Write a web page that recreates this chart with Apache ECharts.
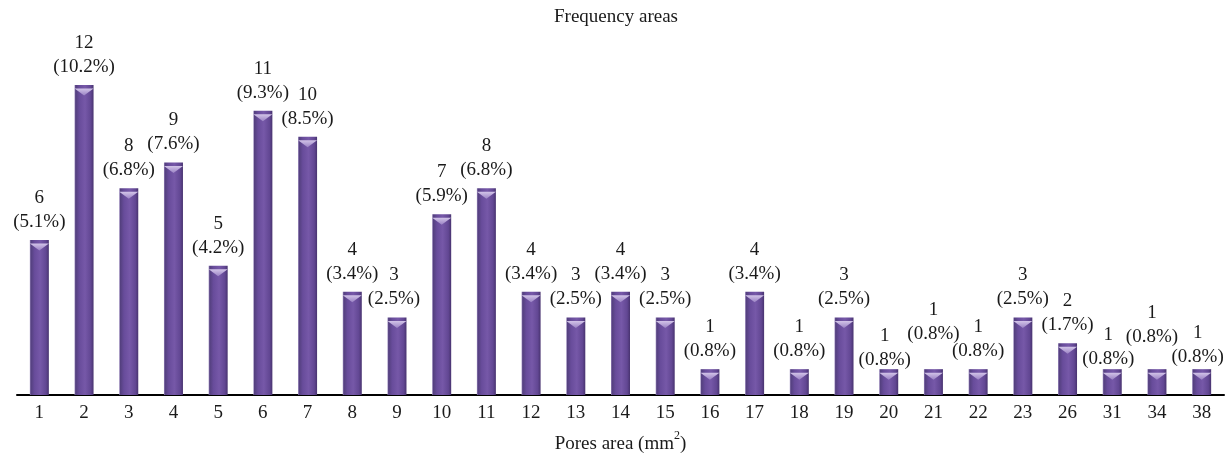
<!DOCTYPE html>
<html>
<head>
<meta charset="utf-8">
<script src="https://cdn.jsdelivr.net/npm/echarts@6/dist/echarts.min.js"></script>
<style>html,body{margin:0;padding:0;background:#fff}#c{width:1232px;height:459px}</style>
</head>
<body>
<div id="c"></div>
<script>
const categories = ['1','2','3','4','5','6','7','8','9','10','11','12','13','14','15','16','17','18','19','20','21','22','23','26','31','34','38'];
const counts = [6,12,8,9,5,11,10,4,3,7,8,4,3,4,3,1,4,1,3,1,1,1,3,2,1,1,1];
const percents = ['5.1','10.2','6.8','7.6','4.2','9.3','8.5','3.4','2.5','5.9','6.8','3.4','2.5','3.4','2.5','0.8','3.4','0.8','2.5','0.8','0.8','0.8','2.5','1.7','0.8','0.8','0.8'];
const titleText = 'Frequency areas';

// label nudges (layout only) keyed by category: [dx, dy]
const labelNudge = {'9':[-3,0], '20':[-4,9], '21':[0,-17], '31':[-4,8], '34':[-5,-14], '38':[-4,6]};

const FONT = '"Liberation Serif", "DejaVu Serif", serif';
const chart = echarts.init(document.getElementById('c'), null, {renderer:'canvas'});

const bodyColor = new echarts.graphic.LinearGradient(0,0,1,0,[
  {offset:0, color:'#9a88bd'},
  {offset:0.06, color:'#54407f'},
  {offset:0.25, color:'#684c9b'},
  {offset:0.55, color:'#7658a8'},
  {offset:0.85, color:'#624793'},
  {offset:1, color:'#48336f'}
]);

const barData = counts.map((v,i)=>{
  const n = labelNudge[categories[i]] || [0,0];
  return {value:v, label:{offset:n}};
});

chart.setOption({
  animation:false,
  title:{text:titleText, left:'center', top:3, textStyle:{fontFamily:FONT, fontSize:19, fontWeight:'normal', color:'#1a1a1a'}},
  grid:{left:17, right:8, top:85, bottom:64},
  xAxis:{
    type:'category', data:categories,
    axisLine:{lineStyle:{color:'#000', width:2}},
    axisTick:{show:false},
    axisLabel:{fontFamily:FONT, fontSize:19, color:'#1a1a1a', margin:9},
    name:'Pores area (mm{sup|2})', nameLocation:'middle', nameGap:35,
    nameTextStyle:{fontFamily:FONT, fontSize:19, color:'#1a1a1a',
      rich:{sup:{fontFamily:FONT, fontSize:12, color:'#1a1a1a', verticalAlign:'top', padding:[0,0,16,0]}}}
  },
  yAxis:{type:'value', min:0, max:12, show:false, splitLine:{show:false}},
  series:[
    {
      type:'bar', data:barData, barWidth:19, barGap:'-100%', z:2,
      itemStyle:{color:bodyColor},
      label:{show:true, position:'top', distance:6, fontFamily:FONT, fontSize:19, lineHeight:24, color:'#1a1a1a', align:'center',
        formatter:p=>p.value+'\n('+percents[p.dataIndex]+'%)'}
    },
    {
      type:'pictorialBar', data:counts, barWidth:19, barGap:'-100%', z:3,
      symbol:'path://M0,0 L10,0 L5,4 Z', symbolSize:[19,7], symbolPosition:'end', symbolOffset:[0,'50%'],
      itemStyle:{color:new echarts.graphic.LinearGradient(0,0,0,1,[{offset:0,color:'#d2c4e8'},{offset:1,color:'#9a82c4'}])},
      silent:true
    }
  ]
});
</script>
</body>
</html>
